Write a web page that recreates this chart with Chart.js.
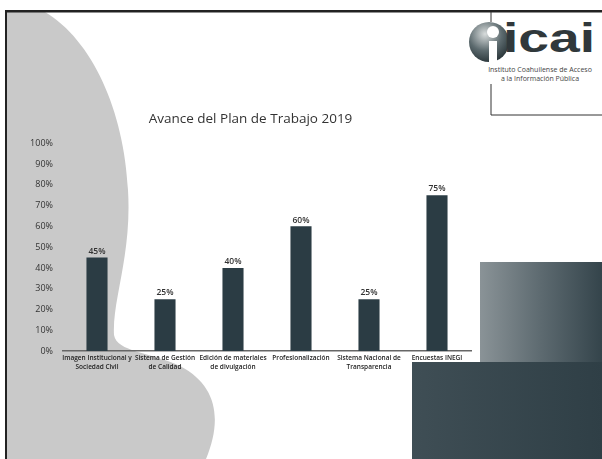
<!DOCTYPE html>
<html lang="es">
<head>
    <meta charset="UTF-8">
    <title>Avance del Plan de Trabajo 2019</title>
    <script src="https://cdn.jsdelivr.net/npm/chart.js"></script>
    <style>
        body {
            margin: 0;
            background: #fff;
            font-family: "Open Sans", sans-serif;
        }

        .page {
            position: relative;
            width: 602px;
            height: 459px;
            overflow: hidden;
        }

        .deco {
            position: absolute;
            left: 0;
            top: 0;
        }

        .chart-box {
            position: absolute;
            left: 0;
            top: 0;
            width: 602px;
            height: 459px;
        }

        .logo-text {
            position: absolute;
            left: 503px;
            top: 16px;
            font-family: "Liberation Sans", Arial, sans-serif;
            font-weight: bold;
            font-size: 40px;
            color: #30383b;
            transform: scaleX(1.38);
            transform-origin: left top;
        }

        .logo-sub {
            position: absolute;
            left: 478px;
            top: 66px;
            width: 124px;
            text-align: center;
            font-size: 7px;
            line-height: 8.5px;
            color: #444;
        }
    </style>
</head>
<body>
<div class="page">
    <svg class="deco" width="602" height="459">
        <defs>
            <linearGradient id="sq1" x1="0" x2="1" y1="0" y2="0">
                <stop offset="0" stop-color="#8a9397"/>
                <stop offset="0.5" stop-color="#5d6a70"/>
                <stop offset="1" stop-color="#34444b"/>
            </linearGradient>
            <linearGradient id="sq2" x1="0" x2="1" y1="0" y2="0">
                <stop offset="0" stop-color="#3f4e55"/>
                <stop offset="1" stop-color="#2f3f46"/>
            </linearGradient>
            <radialGradient id="ball" cx="0.4" cy="0.3" r="0.7">
                <stop offset="0" stop-color="#d8dcdc"/>
                <stop offset="0.6" stop-color="#5c6a6e"/>
                <stop offset="1" stop-color="#2e3a3e"/>
            </radialGradient>
        </defs>
        <path d="M7,12 L45,12 C92,40 124,110 128,190 C132,255 112,300 114,335 C117,352 150,352 180,366 C218,386 222,420 206,459 L7,459 Z" fill="#c9c9c9"/>
        <rect x="480" y="262" width="122" height="101" fill="url(#sq1)"/>
        <rect x="412" y="362" width="190" height="97" fill="url(#sq2)"/>
        <rect x="5" y="10" width="597" height="2.5" fill="#222"/>
        <rect x="5" y="10" width="2" height="449" fill="#222"/>
        <line x1="491" y1="12" x2="491" y2="22" stroke="#333" stroke-width="1"/>
        <line x1="491" y1="84" x2="491" y2="115" stroke="#333" stroke-width="1"/>
        <line x1="491" y1="115" x2="602" y2="115" stroke="#333" stroke-width="1"/>
        <circle cx="489" cy="42" r="20" fill="url(#ball)"/>
        <circle cx="493" cy="32" r="6" fill="#fff"/>
        <rect x="489" y="41" width="8" height="21" fill="#fff"/>
    </svg>
    <div class="logo-text">icai</div>
    <div class="logo-sub">Instituto Coahuilense de Acceso<br>a la Información Pública</div>

    <div class="chart-box">
        <canvas id="avanceChart"></canvas>
    </div>
</div>

<script>
    const categories = [
        ['Imagen Institucional y', 'Sociedad Civil'],
        ['Sistema de Gestión', 'de Calidad'],
        ['Edición de materiales', 'de divulgación'],
        ['Profesionalización'],
        ['Sistema Nacional de', 'Transparencia'],
        ['Encuestas INEGI']
    ];
    const avance = [45, 25, 40, 60, 25, 75];
    const yTicks = [0, 10, 20, 30, 40, 50, 60, 70, 80, 90, 100];

    // etiquetas encima de cada barra
    const barLabels = {
        id: 'barLabels',
        afterDatasetsDraw(chart) {
            const ctx = chart.ctx;
            const meta = chart.getDatasetMeta(0);
            ctx.save();
            ctx.font = '600 8.5px "Open Sans"';
            ctx.fillStyle = '#333';
            ctx.textAlign = 'center';
            ctx.textBaseline = 'bottom';
            meta.data.forEach((bar, i) => {
                ctx.fillText(avance[i] + '%', bar.x, bar.y - 2);
            });
            ctx.restore();
        }
    };

    const ctx = document.getElementById('avanceChart').getContext('2d');
    new Chart(ctx, {
        type: 'bar',
        data: {
            labels: categories,
            datasets: [{
                data: avance,
                backgroundColor: '#2b3c44',
                barPercentage: 0.62,
                categoryPercentage: 0.5
            }]
        },
        options: {
            responsive: true,
            maintainAspectRatio: false,
            animation: false,
            layout: {
                padding: { left: 30, right: 131, top: 111, bottom: 85 }
            },
            plugins: {
                legend: { display: false },
                tooltip: { enabled: false },
                title: {
                    display: true,
                    text: 'Avance del Plan de Trabajo 2019',
                    color: '#333',
                    font: { family: 'Open Sans', size: 13.5, weight: 'normal' },
                    padding: { top: 0, bottom: 16 }
                }
            },
            scales: {
                x: {
                    grid: { display: false, drawTicks: false },
                    border: { color: '#666', width: 1.5 },
                    ticks: {
                        color: '#222',
                        padding: 3,
                        maxRotation: 0,
                        autoSkip: false,
                        font: { family: 'Open Sans', size: 6.5, weight: '600', lineHeight: 1.3 }
                    }
                },
                y: {
                    min: 0,
                    max: 100,
                    afterBuildTicks(scale) {
                        scale.ticks = yTicks.map(v => ({ value: v }));
                    },
                    afterFit(scale) {
                        scale.width = 33;
                    },
                    grid: { display: false, drawTicks: false },
                    border: { display: false },
                    ticks: {
                        color: '#333',
                        padding: 10,
                        font: { family: 'Open Sans', size: 9 },
                        callback: v => v + '%'
                    }
                }
            }
        },
        plugins: [barLabels]
    });
</script>
</body>
</html>
